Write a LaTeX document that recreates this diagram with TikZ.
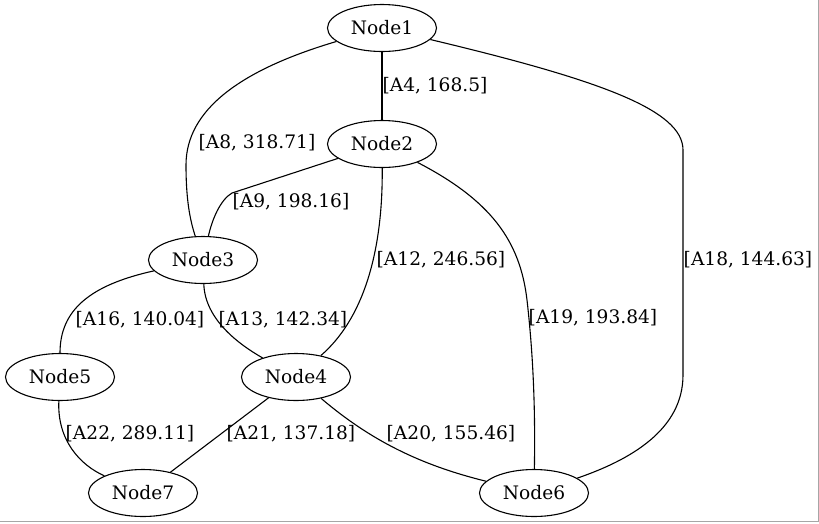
\documentclass[tikz,border=0pt]{standalone}
\usepackage{fontspec}
\setmainfont{DejaVu Serif}
\usetikzlibrary{shapes.geometric}
\begin{document}
\begin{tikzpicture}[x=1pt,y=-1pt,
  gnode/.style={draw,ellipse,minimum width=109pt,minimum height=47pt,inner sep=0pt,font=\fontsize{18.6}{21}\selectfont,line width=1.1pt},
  elabel/.style={inner sep=0pt,font=\fontsize{18.6}{21}\selectfont},
  edge/.style={draw,line width=1.1pt}]
\useasboundingbox (0,0) rectangle (819,523);
\draw[gray!70,line width=1pt] (818,0) -- (818,521.5) -- (0,521.5);
\node[gnode] (n1) at (382,28) {Node1};
\node[gnode] (n2) at (382,144) {Node2};
\node[gnode] (n3) at (203,260) {Node3};
\node[gnode] (n4) at (296,377) {Node4};
\node[gnode] (n5) at (60,377) {Node5};
\node[gnode] (n6) at (534,493) {Node6};
\node[gnode] (n7) at (143,493) {Node7};
\coordinate (c9) at (232,193);
\coordinate (c18a) at (683,150);
\coordinate (c18b) at (683,375);
\coordinate (c19) at (527,300);
\coordinate (c8) at (186,165);
\path[edge] (n1) -- (n2);
\path[edge] (n1) .. controls (240,70) and (186,110) .. (c8) .. controls (186,200) and (190,220) .. (n3);
\path[edge] (n2) -- (c9) .. controls (220,200) and (212,220) .. (n3);
\path[edge] (n2) .. controls (383,255) and (362,320) .. (n4);
\path[edge] (n2) .. controls (490,200) and (520,240) .. (c19) .. controls (535,370) and (535,430) .. (n6);
\path[edge] (n1) .. controls (600,80) and (683,110) .. (c18a) -- (c18b) .. controls (683,430) and (630,460) .. (n6);
\path[edge] (n3) .. controls (90,285) and (60,310) .. (n5);
\path[edge] (n3) .. controls (205,320) and (240,345) .. (n4);
\path[edge] (n5) .. controls (57,440) and (80,465) .. (n7);
\path[edge] (n4) -- (n7);
\path[edge] (n4) .. controls (370,440) and (420,465) .. (n6);
\node[elabel] (l4) at (435,86) {[A4, 168.5]};
\node[elabel] (l8) at (257,143) {[A8, 318.71]};
\node[elabel] (l9) at (291,202) {[A9, 198.16]};
\node[elabel] (l12) at (441,260) {[A12, 246.56]};
\node[elabel] (l18) at (748,260) {[A18, 144.63]};
\node[elabel] (l19) at (593,318) {[A19, 193.84]};
\node[elabel] (l16) at (140,320) {[A16, 140.04]};
\node[elabel] (l13) at (283,320) {[A13, 142.34]};
\node[elabel] (l22) at (130,434) {[A22, 289.11]};
\node[elabel] (l21) at (291,434) {[A21, 137.18]};
\node[elabel] (l20) at (451,434) {[A20, 155.46]};
\end{tikzpicture}
\end{document}
